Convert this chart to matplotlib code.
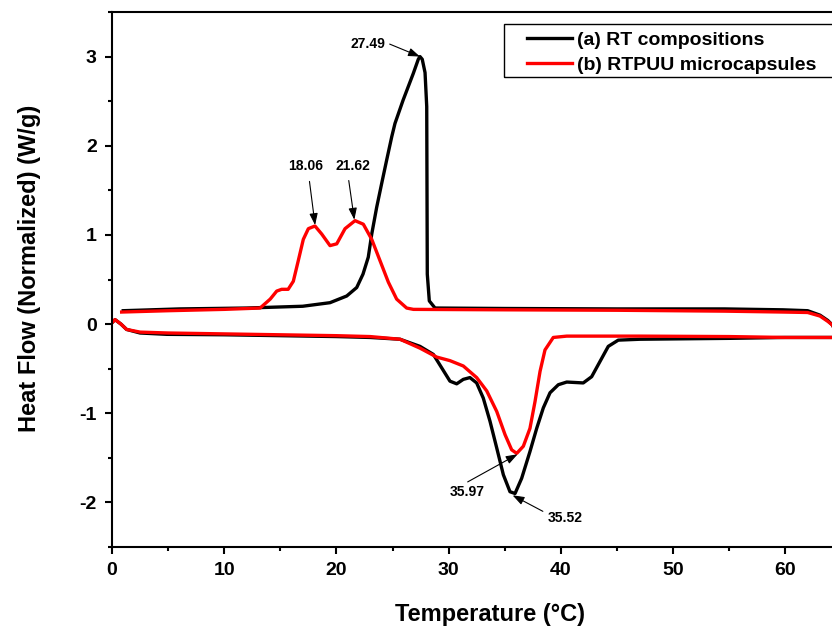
import matplotlib
matplotlib.use('Agg')
import matplotlib.pyplot as plt
from matplotlib.patches import Rectangle
from matplotlib.ticker import MultipleLocator

plt.rcParams['font.family'] = ['Liberation Sans', 'DejaVu Sans']
plt.rcParams['font.weight'] = 'bold'
plt.rcParams['axes.unicode_minus'] = False

# (a) RT compositions: heating run (lower) then cooling run (upper), one loop
rt_x = [0.0, 0.27, 0.8, 1.3, 2.5, 4.9, 10, 15, 20, 23, 25.67, 27.45, 28.64, 29.38,
        30.12, 30.72, 31.31, 31.9, 32.5, 33.09, 33.69, 34.29, 34.88, 35.47, 35.92,
        36.51, 37.25, 37.85, 38.44, 39.04, 39.78, 40.53, 42.0, 42.75, 43.49, 44.23,
        45.12, 47.06, 55, 60, 64.9,
        64.8, 64.5, 64.2, 63.8, 63.1, 62, 59.8, 54.6, 45, 35, 28.79, 28.28, 28.1,
        28.05, 27.9, 27.65, 27.45, 27.3, 26.85, 25.94, 25.22, 24.93, 24.48, 24.04,
        23.59, 23.15, 22.84, 22.37, 21.81, 20.92, 19.43, 17, 12, 6, 3.5, 1.0]
rt_y = [0.015, 0.05, 0.0, -0.06, -0.1, -0.115, -0.12, -0.13, -0.14, -0.15, -0.17,
        -0.25, -0.34, -0.49, -0.64, -0.67, -0.62, -0.60, -0.66, -0.83, -1.09, -1.39,
        -1.69, -1.88, -1.90, -1.73, -1.43, -1.17, -0.94, -0.77, -0.68, -0.65, -0.66,
        -0.59, -0.42, -0.25, -0.18, -0.17, -0.16, -0.15, -0.15,
        -0.14, -0.08, -0.01, 0.04, 0.10, 0.15, 0.16, 0.17, 0.17, 0.175, 0.18, 0.26,
        0.56, 2.44, 2.82, 2.97, 3.0, 2.97, 2.81, 2.51, 2.25, 2.10, 1.84, 1.58, 1.31,
        1.01, 0.75, 0.56, 0.41, 0.315, 0.24, 0.2, 0.18, 0.17, 0.16, 0.15]

# (b) RTPUU microcapsules
mc_x = [0.0, 0.27, 0.8, 1.3, 2.5, 5, 10, 15, 20, 23, 25.67, 27.45, 28.94, 30.12,
        31.31, 32.5, 33.4, 34.29, 35.03, 35.62, 36.07, 36.66, 37.25, 37.7, 38.15,
        38.59, 39.33, 40.53, 47.06, 55, 60, 64.9,
        64.8, 64.5, 64.2, 63.8, 63.1, 62, 59.8, 54.6, 45, 35, 26.86, 26.26, 25.37,
        24.63, 23.89, 23.15, 22.4, 21.66, 20.77, 20.03, 19.43, 18.69, 18.09, 17.5,
        17.05, 16.6, 16.16, 15.7, 15.12, 14.68, 14.1, 13.2, 10, 5, 0.86]
mc_y = [0.015, 0.05, 0.0, -0.06, -0.09, -0.1, -0.11, -0.12, -0.13, -0.14, -0.17,
        -0.27, -0.37, -0.41, -0.47, -0.60, -0.75, -0.98, -1.24, -1.41, -1.45, -1.37,
        -1.17, -0.87, -0.53, -0.29, -0.15, -0.135, -0.135, -0.14, -0.15, -0.15,
        -0.14, -0.08, -0.01, 0.03, 0.09, 0.13, 0.135, 0.145, 0.155, 0.16, 0.165,
        0.18, 0.28, 0.47, 0.71, 0.95, 1.12, 1.16, 1.07, 0.90, 0.88, 1.01, 1.10, 1.07,
        0.95, 0.71, 0.48, 0.39, 0.39, 0.37, 0.28, 0.18, 0.165, 0.15, 0.135]

peak_labels = ['27.49', '18.06', '21.62', '35.97', '35.52']
peak_xy = [(27.45, 3.0), (18.1, 1.11), (21.6, 1.17), (36.15, -1.46), (35.7, -1.92)]
label_xy = [(22.8, 3.14), (17.3, 1.77), (21.5, 1.77), (31.7, -1.88), (40.4, -2.18)]
tail_xy = [(22.8 + 1.95, 3.14), (17.6, 1.60), (21.1, 1.61), (31.7, -1.77), (38.4, -2.1)]

fig = plt.figure(figsize=(8.32, 6.32), dpi=100)
ax = fig.add_axes([112 / 832, 85 / 632, 720 / 832, 535 / 632])

ax.plot(rt_x, rt_y, color='black', lw=2.4, label='(a) RT compositions')
ax.plot(mc_x, mc_y, color='#ff0000', lw=2.4, label='(b) RTPUU microcapsules')

for lab, p, t, s in zip(peak_labels, peak_xy, label_xy, tail_xy):
    ax.text(t[0], t[1], lab, fontsize=10, fontweight='bold', ha='center', va='center')
    ax.annotate('', xy=p, xytext=s,
                arrowprops=dict(arrowstyle='-|>,head_length=0.7,head_width=0.25',
                                color='black', lw=0.8, shrinkA=0, shrinkB=0))

ax.set_xlim(0, 64.17)
ax.set_ylim(-2.5, 3.5)
ax.xaxis.set_major_locator(MultipleLocator(10))
ax.xaxis.set_minor_locator(MultipleLocator(5))
ax.yaxis.set_major_locator(MultipleLocator(1))
ax.yaxis.set_minor_locator(MultipleLocator(0.5))
ax.tick_params(which='both', direction='out', width=1.5, top=False, right=False)
ax.tick_params(which='major', length=5, labelsize=14, pad=6)
ax.tick_params(which='minor', length=3)
for lab in ax.get_xticklabels() + ax.get_yticklabels():
    lab.set_fontweight('bold')

for sp in ['left', 'bottom', 'top']:
    ax.spines[sp].set_linewidth(1.5)
ax.spines['right'].set_visible(False)

ax.set_xlabel('Temperature (°C)', fontsize=17, fontweight='bold')
ax.xaxis.set_label_coords(378 / 720, -0.105)
ax.set_ylabel('Heat Flow (Normalized) (W/g)', fontsize=17, fontweight='bold', va='center')
ax.yaxis.set_label_coords(-0.114, 0.52)

# legend without its own frame, box drawn separately so it runs off the right edge
leg = ax.legend(loc='upper left', bbox_to_anchor=(527 / 832, 1 - 31 / 632),
                bbox_transform=fig.transFigure, fontsize=14, frameon=False,
                borderaxespad=0, borderpad=0, handlelength=2.3, handletextpad=0.25,
                labelspacing=0.4)
for t in leg.get_texts():
    t.set_fontweight('bold')
fig.patches.append(Rectangle((504 / 832, 1 - 77 / 632), 340 / 832, 53 / 632,
                             transform=fig.transFigure, fill=False,
                             edgecolor='black', lw=1.0, zorder=5))

fig.savefig('out.png', dpi=100)
